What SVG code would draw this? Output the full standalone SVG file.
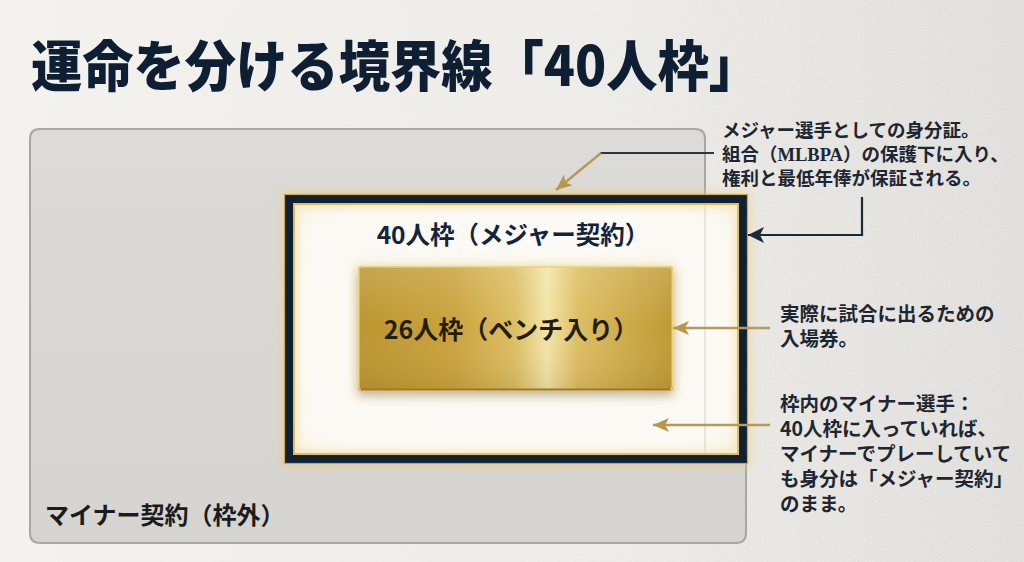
<svg xmlns="http://www.w3.org/2000/svg" width="1024" height="562" viewBox="0 0 1024 562">
  <style>
    .jp { font-family: "Noto Sans CJK JP", "Noto Sans", sans-serif; }
    .title { font-size: 55px; font-weight: 900; fill: #0f1f33; }
    .note { font-size: 18.5px; font-weight: 700; fill: #1d2631; }
    .note2 { font-size: 19.5px; font-weight: 700; fill: #1d2631; }
    .lbl40 { font-size: 24.5px; font-weight: 700; fill: #13253a; }
    .lbl26 { font-size: 25px; font-weight: 700; fill: #241d0c; }
    .lblmin { font-size: 24px; font-weight: 700; fill: #1b1b1b; }
    .serif { font-family: "Liberation Serif", "DejaVu Serif", serif; font-weight: 700; }
    .gold-line { stroke: #b59a5a; stroke-width: 2.5; fill: none; }
    .navy-line { stroke: #1b2a3a; stroke-width: 2.2; fill: none; }
  </style>
  <defs>
    <linearGradient id="bg" x1="0" y1="0" x2="1" y2="0">
      <stop offset="0" stop-color="#f3f2ee"/>
      <stop offset="0.6" stop-color="#eeede9"/>
      <stop offset="1" stop-color="#e4e3df"/>
    </linearGradient>
    <linearGradient id="greyFill" x1="0" y1="0" x2="0" y2="1">
      <stop offset="0" stop-color="#dcdbd8"/>
      <stop offset="1" stop-color="#d5d4d1"/>
    </linearGradient>
    <linearGradient id="goldH" x1="0" y1="0" x2="1" y2="0">
      <stop offset="0" stop-color="#bb952f"/>
      <stop offset="0.3" stop-color="#caa23c"/>
      <stop offset="0.5" stop-color="#dcbe63"/>
      <stop offset="0.6" stop-color="#f3e5a8"/>
      <stop offset="0.7" stop-color="#dcbd60"/>
      <stop offset="1" stop-color="#be9933"/>
    </linearGradient>
    <linearGradient id="goldV" x1="0" y1="0" x2="0" y2="1">
      <stop offset="0" stop-color="#ffffff" stop-opacity="0.15"/>
      <stop offset="0.5" stop-color="#ffffff" stop-opacity="0"/>
      <stop offset="1" stop-color="#5a4210" stop-opacity="0.12"/>
    </linearGradient>
    <radialGradient id="innerFill" cx="0.5" cy="0.5" r="0.75">
      <stop offset="0" stop-color="#fcfbf8"/>
      <stop offset="0.8" stop-color="#fbf9f3"/>
      <stop offset="1" stop-color="#f8f1dc"/>
    </radialGradient>
    <filter id="blur6" x="-10%" y="-10%" width="120%" height="120%">
      <feGaussianBlur stdDeviation="6"/>
    </filter>
    <filter id="blur4" x="-10%" y="-10%" width="120%" height="120%">
      <feGaussianBlur stdDeviation="4"/>
    </filter>
    <filter id="plateShadow" x="-20%" y="-20%" width="140%" height="160%">
      <feDropShadow dx="0" dy="5" stdDeviation="5" flood-color="#4a3a14" flood-opacity="0.3"/>
    </filter>
    <filter id="noise" x="0" y="0" width="100%" height="100%">
      <feTurbulence type="fractalNoise" baseFrequency="0.9" numOctaves="2" seed="3"/>
      <feColorMatrix type="matrix" values="0 0 0 0 0.45  0 0 0 0 0.45  0 0 0 0 0.44  0 0 0 -1.6 1.05"/>
    </filter>
    <linearGradient id="noiseMask" x1="0" y1="0" x2="1" y2="0">
      <stop offset="0" stop-color="#fff" stop-opacity="0"/>
      <stop offset="0.6" stop-color="#fff" stop-opacity="0.15"/>
      <stop offset="1" stop-color="#fff" stop-opacity="0.5"/>
    </linearGradient>
    <mask id="nm">
      <rect width="1024" height="562" fill="url(#noiseMask)"/>
    </mask>
    <clipPath id="innerClip">
      <rect x="293" y="203" width="446" height="252"/>
    </clipPath>
    <marker id="goldHead" markerUnits="userSpaceOnUse" markerWidth="18" markerHeight="14" refX="16" refY="7" orient="auto">
      <path d="M0,0 L16,7 L0,14 L4,7 Z" fill="#b8974a"/>
    </marker>
    <marker id="navyHead" markerUnits="userSpaceOnUse" markerWidth="18" markerHeight="16" refX="16" refY="8" orient="auto">
      <path d="M0,0 L16,8 L0,16 L4,8 Z" fill="#1b2a3a"/>
    </marker>
  </defs>

  <!-- background -->
  <rect width="1024" height="562" fill="url(#bg)"/>
  <rect width="1024" height="562" filter="url(#noise)" mask="url(#nm)" opacity="0.5"/>

  <!-- title -->
  <g id="title">
    <text class="jp title" x="31" y="86" textLength="729" lengthAdjust="spacingAndGlyphs">運命を分ける境界線「40人枠」</text>
  </g>

  <!-- minor contract (outside) -->
  <g id="node-minor">
    <path d="M40,129 H695 Q705,129 705,139 V200 H746 V533 Q746,543 736,543 H40 Q30,543 30,533 V139 Q30,129 40,129 Z" fill="url(#greyFill)" stroke="#a7a7a5" stroke-width="2"/>
    <text class="jp lblmin" x="45" y="524">マイナー契約（枠外）</text>
  </g>

  <!-- 40-man roster frame -->
  <g id="node-40">
    <rect x="285" y="195" width="462" height="268" fill="none" stroke="#f0cd74" stroke-width="8" filter="url(#blur4)" opacity="0.5"/>
    <rect x="293" y="203" width="446" height="252" fill="url(#innerFill)"/>
    <g clip-path="url(#innerClip)">
      <rect x="293" y="203" width="446" height="252" fill="none" stroke="#f4e3ae" stroke-width="10" filter="url(#blur4)" opacity="0.75"/>
      <line x1="705" y1="203" x2="705" y2="455" stroke="#e3ded0" stroke-width="1.5"/>
    </g>
    <rect x="289" y="199" width="454" height="260" fill="none" stroke="#0f2133" stroke-width="8"/>
    <rect x="284.5" y="194.5" width="463" height="269" fill="none" stroke="#c9a65a" stroke-width="1.2"/>
    <rect x="294" y="204" width="444" height="250" fill="none" stroke="#dcbd6c" stroke-width="2"/>
    <text class="jp lbl40" x="513" y="244" text-anchor="middle">40人枠（メジャー契約）</text>
  </g>

  <!-- 26-man roster plate -->
  <g id="node-26">
    <rect x="354" y="262" width="323" height="133" rx="6" fill="#f3dc96" filter="url(#blur6)" opacity="0.45"/>
    <rect x="358" y="266" width="315" height="125" rx="4" fill="url(#goldH)" filter="url(#plateShadow)"/>
    <rect x="358" y="266" width="315" height="125" rx="4" fill="url(#goldV)"/>
    <rect x="358.75" y="266.75" width="313.5" height="123.5" rx="4" fill="none" stroke="#ead487" stroke-width="1.5"/>
    <line x1="361" y1="389.5" x2="670" y2="389.5" stroke="#9a7826" stroke-width="2"/>
    <text class="jp lbl26" x="511" y="339" text-anchor="middle">26人枠（ベンチ入り）</text>
  </g>

  <!-- notes -->
  <g id="note-identity">
    <text class="jp note" x="722" y="137">メジャー選手としての身分証。</text>
    <text class="jp note" x="722" y="161">組合（<tspan class="serif">MLBPA</tspan>）の保護下に入り、</text>
    <text class="jp note" x="722" y="185">権利と最低年俸が保証される。</text>
  </g>
  <g id="note-bench">
    <text class="jp note2" x="780" y="321">実際に試合に出るための</text>
    <text class="jp note2" x="780" y="346">入場券。</text>
  </g>
  <g id="note-minor-in">
    <text class="jp note2" x="780" y="411">枠内のマイナー選手：</text>
    <text class="jp note2" x="780" y="436">40人枠に入っていれば、</text>
    <text class="jp note2" x="780" y="461">マイナーでプレーしていて</text>
    <text class="jp note2" x="780" y="486">も身分は「メジャー契約」</text>
    <text class="jp note2" x="780" y="511">のまま。</text>
  </g>

  <!-- connectors -->
  <g id="connectors">
    <line x1="714" y1="153" x2="600" y2="153" stroke="#2c3540" stroke-width="2"/>
    <path class="gold-line" d="M601,153 L556,190" marker-end="url(#goldHead)"/>
    <path class="navy-line" d="M862,197 V235 H748" marker-end="url(#navyHead)"/>
    <path class="gold-line" d="M770,328 H673" marker-end="url(#goldHead)"/>
    <path class="gold-line" d="M770,425 H653" marker-end="url(#goldHead)"/>
  </g>
</svg>
